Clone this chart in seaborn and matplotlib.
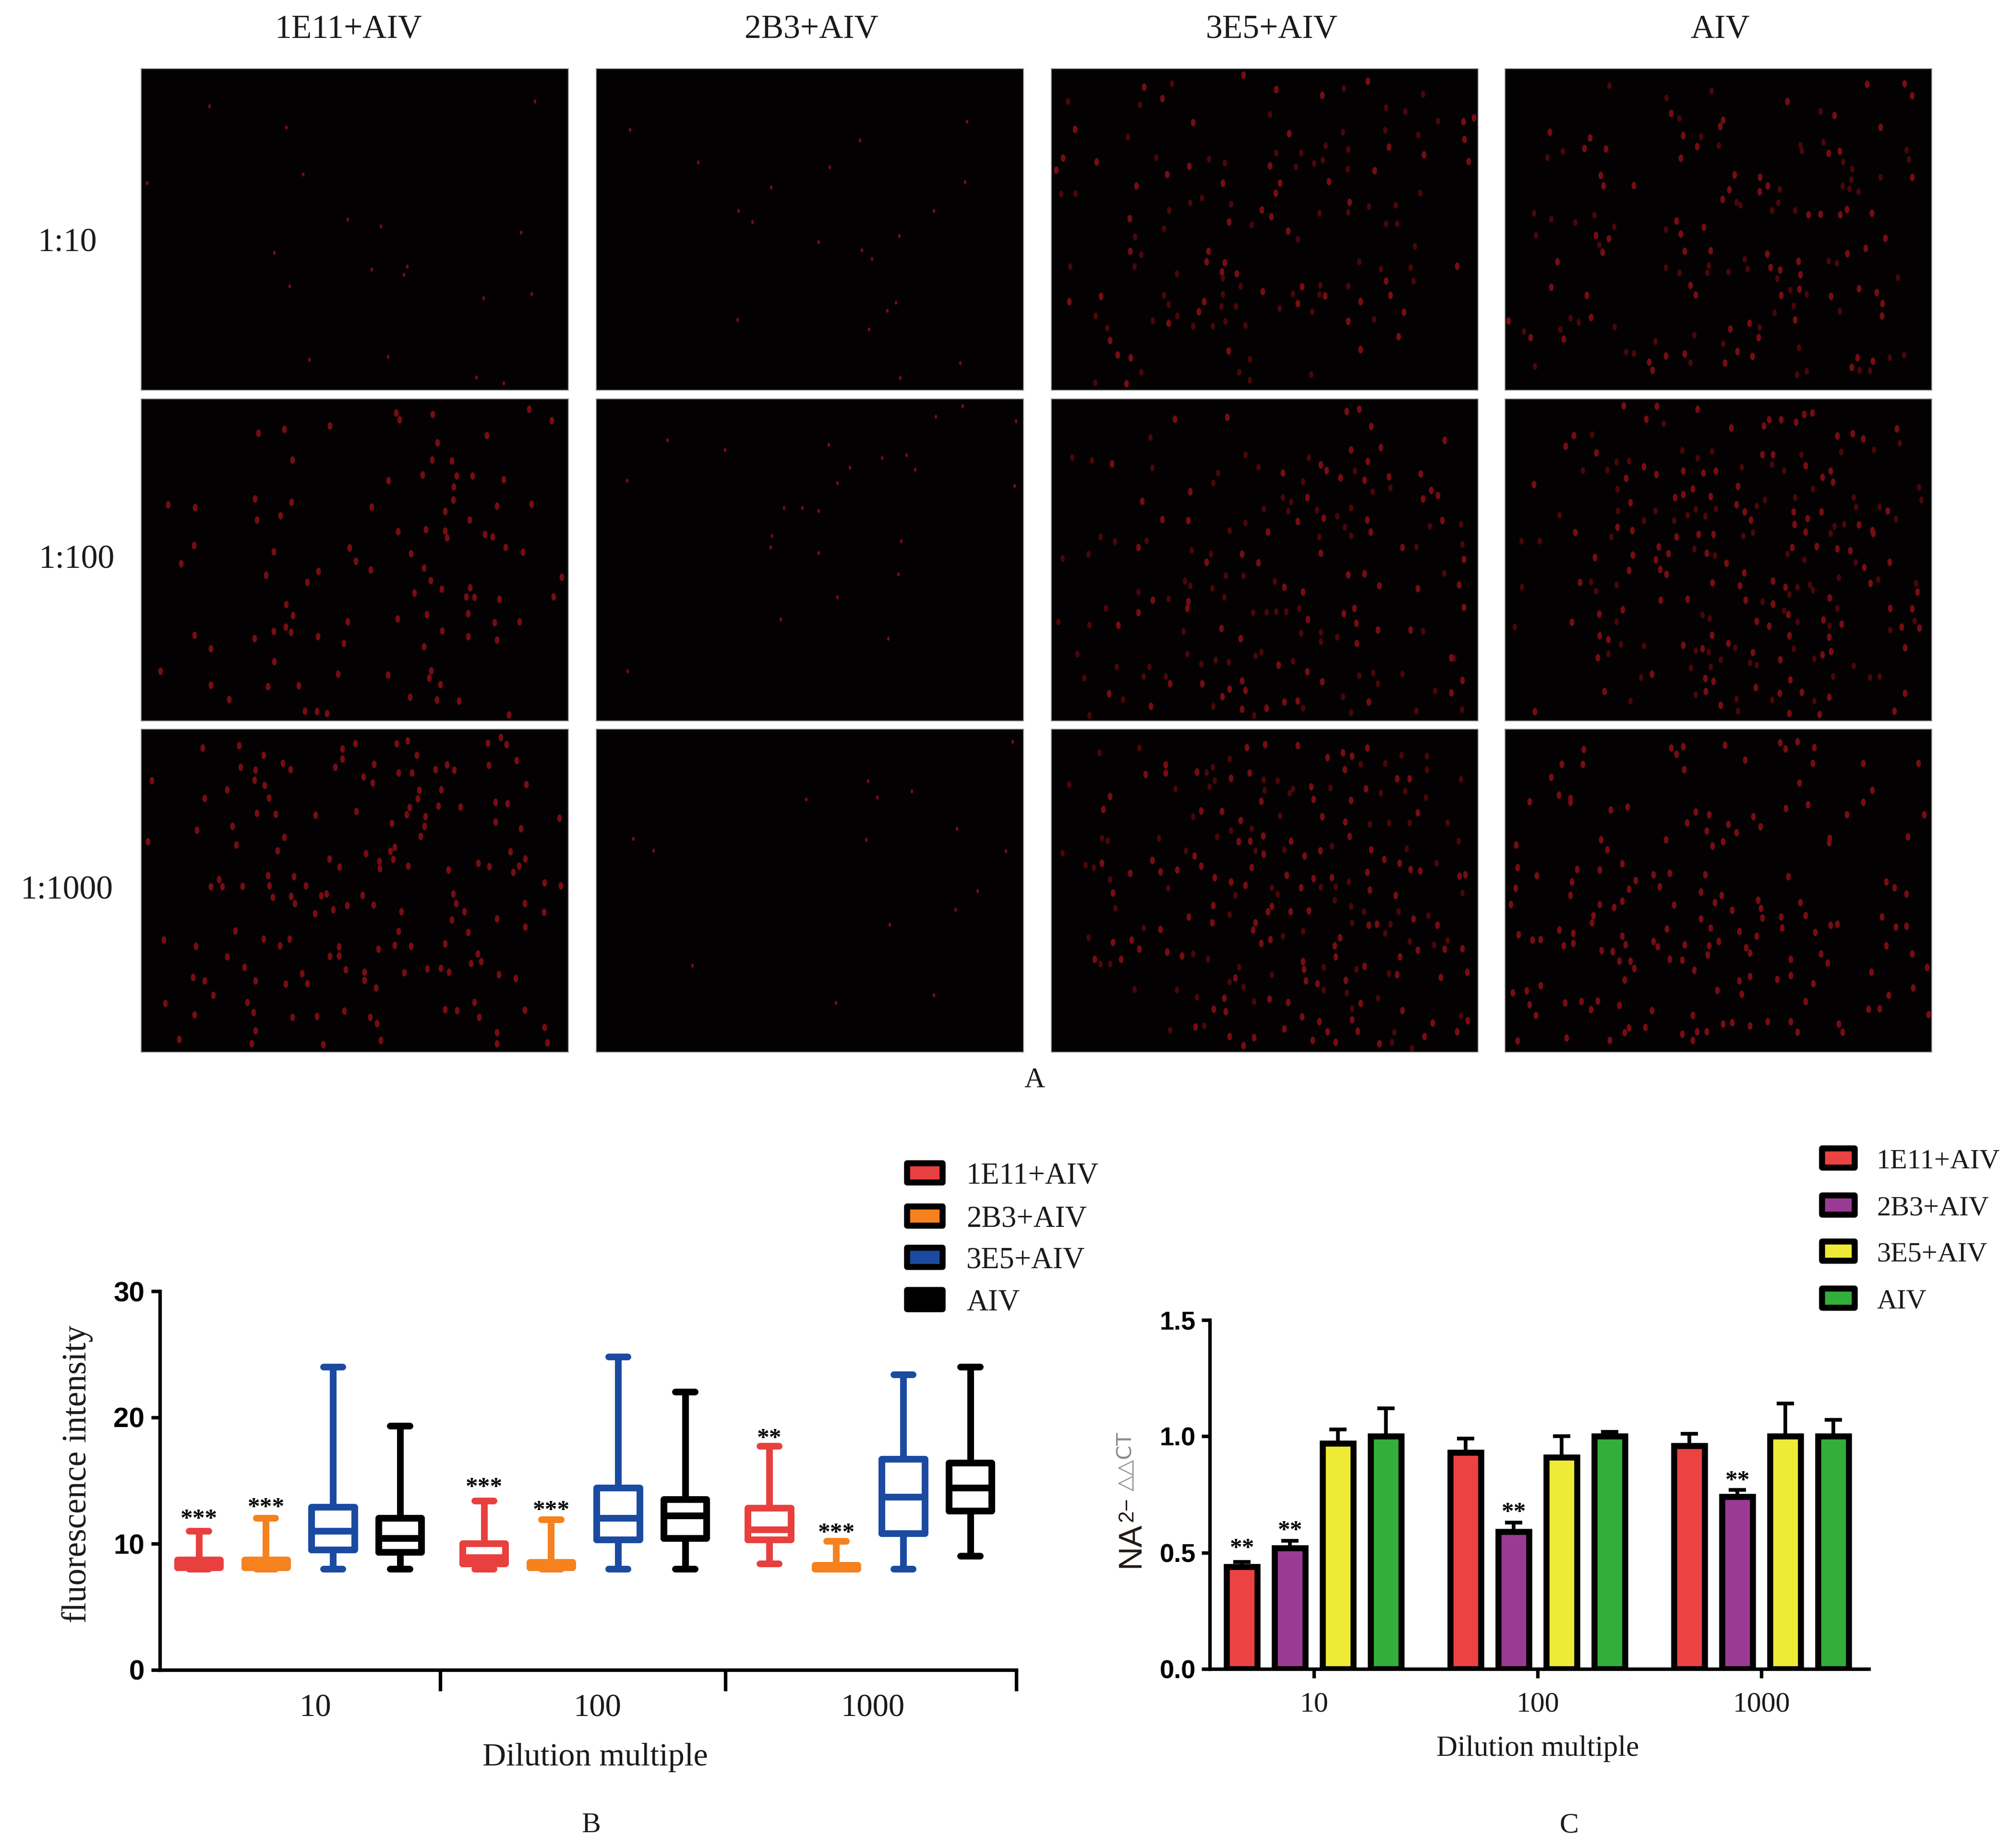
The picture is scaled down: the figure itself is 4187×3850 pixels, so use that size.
import matplotlib
matplotlib.use("Agg")
import matplotlib.pyplot as plt
from matplotlib.markers import MarkerStyle
from matplotlib.patches import Rectangle
from matplotlib.path import Path
from matplotlib.transforms import Affine2D
import pandas as pd
import seaborn as sns

# ---------- panel headings ----------
columns = ["1E11+AIV", "2B3+AIV", "3E5+AIV", "AIV"]
rows = ["1:10", "1:100", "1:1000"]

# ---------- panel B: min, Q1, median, Q3, max per dilution ----------
dilutions = ["10", "100", "1000"]
box_1E11 = [[8.0, 8.1, 8.3, 8.7, 11.0], [8.0, 8.4, 8.9, 10.0, 13.4], [8.4, 10.3, 11.1, 12.8, 17.7]]
box_2B3 = [[8.0, 8.1, 8.3, 8.7, 12.0], [8.0, 8.1, 8.2, 8.5, 11.9], [8.0, 8.0, 8.1, 8.3, 10.2]]
box_3E5 = [[8.0, 9.5, 11.0, 12.9, 24.0], [8.0, 10.3, 12.0, 14.4, 24.8], [8.0, 10.8, 13.7, 16.7, 23.4]]
box_AIV = [[8.0, 9.3, 10.4, 12.0, 19.3], [8.0, 10.4, 12.2, 13.5, 22.0], [9.0, 12.6, 14.4, 16.4, 24.0]]
box_colors = ["#E8403F", "#F5821F", "#1B4BA0", "#000000"]
# significance marks: (group, dilution, label, height)
box_marks = [(0, 0, "***", 11.9), (1, 0, "***", 12.8), (0, 1, "***", 14.4),
             (1, 1, "***", 12.6), (0, 2, "**", 18.3), (1, 2, "***", 10.8)]

# ---------- panel C: bar height and top of error bar per dilution ----------
bar_1E11 = [0.44, 0.93, 0.96]
bar_2B3 = [0.52, 0.59, 0.74]
bar_3E5 = [0.97, 0.91, 1.00]
bar_AIV = [1.00, 1.00, 1.00]
top_1E11 = [0.46, 0.99, 1.01]
top_2B3 = [0.55, 0.63, 0.77]
top_3E5 = [1.03, 1.00, 1.14]
top_AIV = [1.12, 1.02, 1.07]
bar_colors = ["#EA4341", "#9A3B93", "#EFEA36", "#33AE3A"]
bar_marks = [(0, 0, 0.516), (1, 0, 0.593), (1, 1, 0.671), (1, 2, 0.807)]

# ---------- micrograph spots (panel units 0-1568) ----------
s_1E11_10 = [(251,183),(1445,160),(594,515),(757,734),(880,767),(1393,798),(976,964),(964,1003),(545,1061),(616,1419),(905,1404),(1230,1504),(1331,1534),(1432,1098),(1257,1118),(532,285),(22,557),(845,979),(488,897)]
s_2B3_10 = [(123,297),(373,457),(857,479),(642,579),(521,692),(573,747),(1111,815),(975,885),(1012,926),(1099,1140),(1067,1180),(1000,1271),(518,1225),(1336,1434),(1116,1508),(1353,553),(1239,692),(1360,258),(968,349),(815,844)]
s_3E5_10 = [(995,128),(1163,62),(87,295),(873,316),(1240,382),(1368,420),(1532,452),(1187,497),(507,476),(803,472),(18,494),(42,435),(165,455),(425,516),(840,558),(1020,550),(824,606),(629,556),(312,570),(1096,650),(288,730),(652,746),(773,688),(808,720),(870,790),(576,890),(289,890),(570,940),(636,945),(626,990),(680,1000),(921,1062),(776,1085),(1005,1108),(905,1145),(182,1110),(65,1135),(560,1135),(541,1185),(430,1240),(1490,962),(1245,1105),(1135,1135),(1295,1187),(1090,1232),(1275,1305),(215,1325),(243,1395),(291,1410),(275,1535),(650,1375),(1135,1370),(1230,1035),(705,30),(825,100),(408,145),(341,88),(520,262),(1517,343),(1513,258),(1553,238)]
d_3E5_10 = [(60,160),(325,175),(280,332),(1225,300),(1070,310),(1300,208),(1365,125),(1230,190),(802,222),(443,72),(1075,95),(1420,255),(1347,322),(1007,375),(1090,392),(826,410),(917,410),(996,445),(965,462),(897,478),(1088,490),(385,432),(578,440),(636,458),(35,610),(88,608),(510,653),(552,630),(660,660),(432,690),(412,780),(307,818),(330,905),(305,965),(68,965),(460,1000),(630,1020),(695,1060),(988,1055),(985,1100),(888,1098),(630,1100),(412,1105),(430,1150),(625,1158),(678,1158),(838,1168),(958,1185),(462,1205),(162,1205),(373,1228),(520,1255),(592,1255),(638,1230),(712,1252),(1185,1222),(205,1263),(728,1415),(330,1480),(690,1480),(728,1520),(955,1490),(160,1530),(1355,605),(1265,665),(1165,672),(1090,700),(1230,755),(1270,755),(985,705),(735,760),(905,830),(1130,940),(1210,975),(1320,968),(1335,865),(1330,1035),(1090,1060)]
s_AIV_10 = [(843,517),(937,530),(935,600),(965,572),(824,590),(799,637),(1158,710),(1231,712),(1348,705),(1255,685),(1115,712),(630,742),(730,773),(646,805),(660,890),(755,888),(963,903),(1078,938),(1010,980),(975,968),(1085,1005),(700,1103),(680,1055),(1082,1075),(1015,1105),(1300,1072),(1365,1090),(1198,1110),(1387,1145),(1385,1205),(1065,1225),(897,1240),(828,1268),(932,1310),(808,1435),(853,1378),(908,1402),(660,1390),(590,1400),(530,1430),(541,1470),(1273,1455),(1295,1410),(1351,1425),(215,1318),(93,1310),(193,940),(358,895),(333,813),(381,828),(351,520),(362,570),(472,568),(370,390),(291,388),(164,308),(313,337),(610,218),(655,325),(645,435),(705,380),(790,280),(800,250),(1037,160),(1330,75),(1495,132),(1468,72),(1210,228),(1380,285),(1230,402),(1188,412),(1496,530),(1397,827),(1325,875),(1258,900),(12,1228),(170,1065),(300,1105),(316,1212)]
d_AIV_10 = [(382,82),(593,142),(758,108),(1158,208),(212,403),(155,432),(640,240),(720,330),(785,375),(1085,372),(1090,400),(1170,358),(1475,395),(1483,443),(1241,455),(1275,490),(1272,540),(1240,572),(1265,585),(1298,598),(1380,530),(1009,587),(1003,652),(981,690),(850,650),(865,665),(1065,690),(170,733),(105,705),(328,713),(257,750),(112,813),(345,860),(400,770),(590,785),(880,930),(890,975),(748,960),(742,995),(640,995),(590,968),(820,990),(1000,1022),(1188,937),(1218,947),(1442,1018),(1107,1100),(1047,1078),(1060,1155),(990,1188),(1230,1182),(935,1262),(695,1300),(800,1342),(552,1330),(445,1380),(473,1388),(270,1235),(240,1215),(203,1270),(68,1280),(402,1258),(1080,1360),(1072,1490),(1107,1475),(1340,1473),(1302,1470),(1413,1410),(1465,1395),(680,1432),(110,1450)]
s_1E11_100 = [(430,165),(525,148),(692,130),(1069,75),(948,100),(935,68),(1268,178),(1423,50),(1507,105),(1140,302),(1068,297),(1087,213),(555,297),(907,397),(1032,370),(1330,392),(1158,375),(1215,375),(1147,427),(1145,490),(198,527),(99,513),(418,485),(552,503),(845,525),(1115,547),(1305,522),(1432,512),(511,567),(424,590),(1205,590),(193,713),(487,744),(146,802),(1290,670),(1262,658),(1122,675),(1115,642),(1045,635),(943,645),(765,724),(990,752),(1338,723),(1401,745),(458,857),(842,832),(788,790),(1038,822),(1062,883),(1543,866),(610,893),(650,840),(1002,943),(1103,925),(1207,918),(1192,963),(1222,965),(1315,975),(1514,962),(532,1000),(556,1055),(1048,1050),(1199,1045),(1297,1088),(1388,1085),(1105,1128),(940,1070),(758,1085),(530,1110),(550,1135),(1200,1157),(1305,1173),(648,1157),(416,1165),(743,1190),(1038,1205),(256,1215),(488,1278),(723,1338),(1065,1322),(905,1343),(1057,1358),(1097,1390),(256,1393),(465,1400),(578,1396),(322,1462),(987,1452),(1085,1465),(1167,1470),(645,1522),(682,1530),(600,1518),(70,1325),(1350,1538),(195,1150),(486,1130)]
s_2B3_100 = [(113,398),(261,202),(472,248),(852,222),(930,333),(884,408),(1048,287),(1139,273),(1170,343),(1540,107),(1535,424),(688,531),(755,531),(816,545),(644,667),(639,723),(816,751),(1109,852),(884,966),(676,1073),(1072,1166),(115,1325),(1245,87),(1345,34),(1118,691)]
s_3E5_100 = [(453,98),(645,88),(1175,133),(222,315),(990,320),(1010,348),(850,360),(1162,303),(1365,486),(510,450),(333,498),(408,587),(503,592),(795,648),(570,795),(700,755),(760,797),(695,1165),(990,750),(1173,648),(1090,855),(1150,850),(855,915),(1345,922),(925,940),(1075,1045),(1113,1020),(942,1072),(1120,1092),(1320,1125),(1200,1125),(625,1118),(245,1100),(320,1040),(372,978),(502,985),(500,1018),(1122,1190),(995,1376),(940,1328),(835,1295),(700,1372),(655,1412),(712,1418),(628,1448),(435,1385),(553,1385),(212,1435),(365,1495),(1165,1475),(1515,780),(1515,1015),(1510,1370),(1470,1430),(1470,1260),(1290,722),(1435,592),(1062,383),(1240,378),(1420,470),(1395,445),(905,595),(1000,580),(1160,590),(940,480),(320,722),(1445,200),(1100,247),(1210,235),(1130,48),(1085,60),(1357,365),(1150,395),(1498,905),(1205,910),(790,1505),(905,1470),(855,1475),(700,1510)]
d_3E5_100 = [(363,188),(148,298),(75,285),(370,335),(612,360),(595,410),(760,332),(712,270),(945,285),(925,402),(1115,350),(1180,450),(1245,432),(850,480),(880,500),(870,545),(975,540),(1050,570),(1100,530),(1078,625),(985,670),(1100,665),(655,640),(712,602),(780,535),(180,670),(233,695),(350,690),(585,755),(515,735),(135,755),(40,775),(640,860),(705,860),(820,888),(590,920),(490,885),(510,910),(320,940),(430,972),(635,965),(200,1018),(740,1040),(790,1038),(825,1035),(862,1035),(910,1020),(485,1130),(140,1100),(25,1085),(95,1240),(500,1240),(360,1303),(240,1305),(550,1290),(650,1280),(750,1250),(770,1232),(603,1272),(888,1275),(1050,1160),(990,1135),(918,1140),(990,1180),(1130,1345),(1182,1335),(1200,1385),(1290,1340),(1410,1420),(1480,1262),(1443,848),(1365,1130),(1340,720),(1510,707),(1505,610),(1390,620),(120,1358),(338,1350),(420,1350),(262,1463),(1070,1448),(595,1495),(1100,1525),(1340,1520),(1508,1512),(925,1505),(745,1540),(140,1540)]
s_AIV_100 = [(708,48),(830,140),(950,130),(970,100),(1015,100),(1277,168),(1220,180),(1315,195),(1440,145),(985,272),(945,270),(335,262),(510,330),(555,367),(728,360),(775,350),(655,350),(445,385),(460,505),(625,480),(690,438),(655,465),(755,475),(855,425),(850,515),(880,550),(903,590),(1060,550),(1112,582),(1162,550),(1205,405),(1105,325),(1165,380),(1195,350),(1063,610),(1105,648),(1300,612),(1350,640),(1405,545),(710,658),(765,660),(630,670),(412,625),(468,640),(565,720),(600,752),(553,782),(570,830),(592,852),(470,760),(330,770),(455,835),(740,750),(1145,717),(1055,722),(1220,730),(1268,738),(813,800),(878,845),(985,885),(762,895),(862,910),(1030,915),(1343,898),(1515,940),(1193,968),(985,998),(883,978),(670,975),(572,978),(432,1025),(345,1048),(245,1087),(1415,1020),(1495,1022),(1170,1075),(1040,1050),(925,1082),(970,1105),(1237,1095),(1522,1115),(1457,1110),(760,1150),(820,1190),(655,1198),(348,1152),(380,1170),(1045,1152),(1190,1160),(1470,1210),(1198,1228),(1165,1245),(1010,1268),(910,1235),(725,1215),(340,1260),(540,1338),(735,1360),(765,1375),(738,1423),(1048,1368),(920,1405),(1008,1432),(1090,1428),(1190,1452),(1155,1535),(792,1492),(365,1422),(110,1522),(1045,1530),(1430,1520),(1470,1432),(1352,655),(1412,795),(1320,820),(275,893),(105,415),(252,178),(222,228),(258,650),(436,32),(558,35),(518,98),(1128,68),(1098,75),(1068,113)]
d_AIV_100 = [(582,120),(320,173),(285,348),(375,347),(410,307),(455,302),(650,250),(760,255),(708,287),(1088,270),(1025,348),(870,332),(1235,258),(980,318),(1355,248),(1450,215),(412,440),(415,545),(552,545),(700,538),(735,570),(775,535),(670,565),(620,592),(510,592),(390,670),(200,565),(127,692),(60,692),(1280,480),(1065,480),(1130,437),(955,490),(925,520),(1290,525),(1375,525),(1520,430),(1530,490),(1435,585),(1245,610),(1210,620),(1195,655),(875,665),(910,650),(695,730),(770,762),(1037,755),(1098,782),(1287,795),(1225,870),(1370,878),(1510,898),(1045,950),(1130,930),(1120,905),(1075,915),(315,890),(410,905),(333,935),(62,915),(36,1110),(410,1085),(725,1052),(752,1068),(1075,1085),(1192,1105),(1415,1125),(1505,1080),(1025,1030),(945,985),(1220,1020),(380,1240),(510,1200),(425,1195),(700,1225),(748,1232),(845,1210),(900,1282),(925,1295),(792,1268),(755,1305),(682,1308),(1060,1215),(1135,1265),(1280,1300),(1340,1355),(1375,1350),(1205,1350),(500,1355),(700,1440),(460,1470),(850,1460),(980,1465),(1135,1470),(855,1520)]
s_1E11_1000 = [(225,92),(360,80),(450,125),(520,165),(548,195),(420,198),(365,185),(38,250),(415,248),(452,272),(315,293),(232,335),(468,333),(425,408),(493,413),(640,418),(790,398),(712,183),(785,70),(738,95),(738,145),(855,170),(937,70),(978,55),(1012,125),(945,213),(993,213),(850,262),(815,230),(1080,195),(1148,198),(1122,172),(1272,68),(1340,75),(1320,40),(1378,152),(1275,175),(1102,293),(1020,295),(1015,338),(985,380),(975,415),(1172,378),(1345,360),(1300,355),(1090,372),(1043,423),(1300,450),(1393,483),(1413,268),(1535,430),(920,457),(1040,470),(1025,520),(335,470),(205,490),(25,545),(348,562),(525,525),(500,590),(930,572),(915,592),(825,603),(925,632),(873,640),(690,630),(728,668),(980,665),(875,675),(1128,682),(1237,650),(1277,667),(1355,595),(1387,665),(1365,695),(1410,628),(605,760),(560,715),(465,710),(470,760),(482,815),(297,765),(285,730),(255,765),(372,762),(550,810),(563,845),(680,798),(660,808),(812,805),(755,855),(705,875),(852,852),(1145,798),(1155,845),(1185,885),(1408,845),(1478,887),(1480,745),(1540,760),(955,885),(637,895),(1140,925),(1410,960),(1200,985),(1305,920),(945,980),(345,978),(450,1018),(83,1022),(200,1052),(510,1050),(545,1018),(725,1055),(725,1100),(692,1102),(870,1068),(930,1048),(990,1052),(1235,1090),(1248,1128),(1210,1138),(1115,1042),(315,1105),(378,1155),(750,1168),(590,1185),(820,1218),(820,1180),(965,1182),(1050,1162),(1100,1160),(1130,1180),(1313,1190),(1375,1210),(420,1222),(232,1222),(190,1205),(265,1290),(88,1330),(390,1325),(412,1375),(645,1393),(745,1368),(840,1397),(865,1428),(862,1255),(1115,1360),(1160,1365),(1222,1325),(1240,1397),(1408,1362),(1480,1447),(1305,1472),(1490,1522),(1305,1525),(140,1505),(420,1462),(405,1525),(668,1530),(880,1510),(555,1398),(530,1238),(610,1235),(195,1387)]
s_2B3_1000 = [(1528,60),(997,252),(1158,301),(770,339),(1030,331),(1323,483),(135,531),(210,590),(990,537),(1398,786),(1318,877),(352,1147),(1503,592),(1077,949),(880,1327),(1238,1291)]
s_3E5_1000 = [(717,88),(785,75),(1070,115),(1105,130),(1160,90),(1015,138),(905,80),(728,213),(660,238),(535,208),(420,212),(420,172),(345,220),(1078,195),(1315,240),(1270,240),(1155,290),(955,280),(215,327),(190,388),(550,395),(627,398),(770,350),(963,340),(695,442),(995,425),(1080,450),(1345,405),(1100,345),(880,542),(730,542),(687,545),(778,518),(1095,520),(1175,585),(1278,650),(1222,632),(780,605),(930,615),(987,590),(185,650),(370,635),(525,615),(400,692),(462,682),(290,698),(550,665),(735,672),(600,720),(660,742),(712,758),(865,708),(963,725),(918,768),(1030,720),(1160,695),(1355,688),(1320,680),(1500,712),(1520,705),(225,795),(595,855),(505,910),(810,860),(795,885),(878,885),(945,880),(750,940),(740,975),(1265,805),(1170,780),(1330,920),(1418,950),(1165,950),(1195,945),(590,938),(400,972),(1060,1010),(1040,1050),(770,1040),(805,1020),(225,1035),(295,1022),(323,1068),(425,1082),(480,1100),(158,1115),(255,1115),(1045,1105),(1280,1105),(1345,1072),(1445,1067),(1510,1065),(925,1128),(928,1165),(1150,1150),(1270,1190),(935,1222),(978,1235),(1082,1218),(1527,1178),(1430,1205),(675,1208),(635,1305),(800,1310),(870,1325),(640,1370),(597,1358),(1290,1365),(1135,1330),(920,1395),(1400,1425),(985,1420),(1105,1410),(855,1455),(1125,1465),(960,1510),(1045,1520),(1015,1468),(1205,1525),(705,1535),(655,1490),(745,1495),(530,1445),(1490,1467),(1370,1490),(1530,1415)]
d_3E5_1000 = [(322,92),(177,115),(65,268),(455,290),(592,185),(570,210),(600,250),(580,280),(655,145),(783,295),(830,250),(780,245),(875,310),(888,290),(1025,285),(1225,165),(1135,170),(1285,125),(1380,130),(1505,242),(1380,195),(1210,310),(1300,300),(1375,330),(520,425),(840,420),(735,482),(660,492),(608,522),(1170,462),(1240,455),(1315,455),(1455,455),(1495,542),(185,530),(207,540),(395,530),(40,600),(125,660),(155,670),(493,590),(750,590),(855,585),(1030,565),(1305,580),(1415,650),(215,730),(428,772),(810,770),(990,767),(1092,742),(1045,765),(1510,795),(675,805),(830,800),(1040,830),(1100,860),(1148,885),(1275,885),(235,870),(1385,905),(655,900),(338,965),(135,1012),(1105,940),(1245,945),(1225,990),(850,1005),(925,980),(1455,1025),(1405,1045),(1315,1030),(520,1090),(575,1115),(690,1155),(180,1140),(215,1140),(1000,1155),(1120,1165),(1240,1185),(810,1190),(655,1225),(705,1250),(305,1262),(460,1265),(535,1300),(745,1322),(1000,1265),(1085,1280),(1200,1305),(1105,1355),(1505,1390),(560,1440),(435,1460),(1260,1470),(1250,1520),(1325,1550)]
s_AIV_1000 = [(290,98),(610,90),(655,85),(630,120),(1010,65),(1030,95),(1135,88),(1075,60),(1315,165),(1130,165),(882,150),(658,195),(808,78),(1082,260),(1518,165),(208,170),(285,170),(170,232),(197,320),(240,335),(240,355),(90,352),(450,378),(388,392),(1032,385),(1113,365),(1350,295),(1315,355),(1255,415),(700,400),(750,415),(668,455),(820,462),(850,500),(938,472),(740,495),(912,425),(1192,530),(1190,550),(353,535),(590,537),(762,565),(800,545),(1480,522),(40,562),(375,585),(430,652),(45,672),(117,710),(348,682),(545,705),(265,680),(245,740),(38,772),(480,735),(455,775),(568,765),(605,700),(735,705),(720,790),(770,840),(795,805),(620,852),(400,865),(430,835),(240,805),(348,850),(22,850),(1085,840),(930,830),(940,870),(945,915),(835,878),(1040,715),(1105,905),(1015,910),(1017,965),(595,970),(720,920),(1195,950),(1220,945),(1435,960),(1475,955),(1430,770),(1400,740),(1475,800),(1540,415),(1385,910),(325,905),(320,940),(200,975),(250,990),(130,1020),(100,1022),(50,998),(250,1040),(215,1050),(430,1005),(443,1045),(660,1045),(885,1060),(900,1085),(755,965),(860,980),(925,1005),(785,1030),(750,1050),(745,1095),(560,1055),(545,1030),(395,1078),(355,1075),(420,1125),(460,1125),(475,1160),(605,1115),(650,1120),(695,1170),(1050,1115),(1160,1090),(1185,1135),(1140,985),(1400,1050),(1495,1090),(1550,1155),(1345,1180),(440,1217),(28,1278),(130,1245),(80,1270),(90,1338),(220,1328),(280,1320),(340,1318),(315,1360),(113,1388),(420,1340),(780,1268),(870,1285),(1000,1215),(1050,1195),(1132,1235),(1105,1320),(900,1200),(860,1220),(540,1365),(690,1388),(515,1447),(455,1450),(440,1472),(705,1468),(740,1468),(650,1480),(690,1510),(225,1497),(385,1510),(45,1512),(800,1430),(835,1423),(900,1440),(965,1418),(1050,1420),(1075,1470),(1240,1470),(1225,1430),(1335,1358),(1375,1355),(1500,1255),(1555,1383),(1410,1290)]

panel_strong = [[s_1E11_10, s_2B3_10, s_3E5_10, s_AIV_10],
                [s_1E11_100, s_2B3_100, s_3E5_100, s_AIV_100],
                [s_1E11_1000, s_2B3_1000, s_3E5_1000, s_AIV_1000]]
panel_dim = [[[], [], d_3E5_10, d_AIV_10],
             [[], [], d_3E5_100, d_AIV_100],
             [[], [], d_3E5_1000, []]]

# ---------- figure set-up ----------
W, H = 4187, 3850
sns.set_theme(style="white")
plt.rcParams["font.family"] = ["Liberation Serif", "DejaVu Sans"]
fig = plt.figure(figsize=(W / 100, H / 100), dpi=100, facecolor="white")
cell = MarkerStyle(Path.unit_circle().transformed(Affine2D().scale(0.62, 1.0)))


def axes_px(x0, y0, x1, y1):
    return fig.add_axes([x0 / W, 1 - y1 / H, (x1 - x0) / W, (y1 - y0) / H])


def label(x, y, s, size, **kw):
    kw.setdefault("ha", "center")
    kw.setdefault("va", "center")
    return fig.text(x / W, 1 - y / H, s, fontsize=size, color=kw.pop("color", "#1a1a1a"), **kw)


# ---------- panel A ----------
col_x = [(294, 1184), (1242, 2132), (2190, 3079), (3135, 4024)]
row_y = [(143, 813), (831, 1502), (1519, 2192)]
for r, (y0, y1) in enumerate(row_y):
    for c, (x0, x1) in enumerate(col_x):
        ax = axes_px(x0, y0, x1, y1)
        ax.set_facecolor("#040102")
        dim = panel_dim[r][c]
        strong = panel_strong[r][c]
        sparse = not dim and len(strong) < 60
        if dim:
            sns.scatterplot(x=[p[0] for p in dim], y=[p[1] for p in dim], ax=ax,
                            color="#4a0609", marker=cell, s=110, linewidth=0, legend=False)
        sns.scatterplot(x=[p[0] for p in strong], y=[p[1] for p in strong], ax=ax,
                        color="#780c13", marker=cell, s=40 if sparse else 130, linewidth=0, legend=False)
        ax.set(xlim=(0, 1568), ylim=(1568, 0), xticks=[], yticks=[], xlabel="", ylabel="")
        for sp in ax.spines.values():
            sp.set_color("#9a9a9a")
            sp.set_linewidth(1.2)

for x, s in zip([726, 1690, 2649, 3583], columns):
    label(x, 62, s, 50)
for x, y, s in zip([141, 160, 139], [507, 1167, 1856], rows):
    label(x, y, s, 50)
label(2155, 2251, "A", 43)

# ---------- panel B ----------
rec = []
for name, table in zip(columns, [box_1E11, box_2B3, box_3E5, box_AIV]):
    for dil, five in zip(dilutions, table):
        rec += [{"dilution": dil, "group": name, "value": v} for v in five]
box_df = pd.DataFrame(rec)

axb = axes_px(333, 2690, 2117, 3479)
sns.boxplot(data=box_df, x="dilution", y="value", hue="group", order=dilutions, hue_order=columns,
            palette=box_colors, fill=False, whis=(0, 100), width=0.94, gap=0.36, linewidth=10,
            capwidths=0.068, legend=False, ax=axb)
axb.set(xlim=(-0.49, 2.513), ylim=(0, 30), xlabel="", ylabel="")
axb.set_yticks([0, 10, 20, 30])
axb.set_yticklabels(["0", "10", "20", "30"], fontfamily="Liberation Sans", fontweight="bold", fontsize=42)
axb.set_xticks([0.493, 1.493, 2.513])
axb.set_xticklabels(["", "", ""])
axb.set_xticks([0.054, 1.044, 2.01], minor=True)
axb.set_xticklabels(dilutions, minor=True, fontsize=48)
axb.tick_params(axis="x", which="major", length=32, width=5.3, color="black", bottom=True)
axb.tick_params(axis="x", which="minor", length=0, pad=36, bottom=True, labelcolor="#1a1a1a")
axb.tick_params(axis="y", length=13, width=5.3, color="black", left=True, pad=10, labelcolor="black")
sns.despine(ax=axb)
for side in ("left", "bottom"):
    axb.spines[side].set_linewidth(5.3)
    axb.spines[side].set_color("black")
for g, d, s, h in box_marks:
    axb.text(d + (g - 1.5) * 0.235, h, s, ha="center", va="center", fontsize=37, fontweight="bold", color="black")
label(161, 3071, "fluorescence intensity", 51, rotation=90)
label(1240, 3662, "Dilution multiple", 49)
label(1231, 3803, "B", 43)

# ---------- panel C ----------
rec = []
for name, vals in zip(columns, [bar_1E11, bar_2B3, bar_3E5, bar_AIV]):
    rec += [{"dilution": d, "group": name, "value": v} for d, v in zip(dilutions, vals)]
bar_df = pd.DataFrame(rec)

axc = axes_px(2520, 2750, 3893, 3477)
sns.barplot(data=bar_df, x="dilution", y="value", hue="group", order=dilutions, hue_order=columns,
            palette=bar_colors, saturation=1, width=0.858, gap=0.36, errorbar=None,
            edgecolor="black", linewidth=9, legend=False, ax=axc)
tops = [top_1E11, top_2B3, top_3E5, top_AIV]
for cont, ts in zip(axc.containers, tops):
    for rect, t in zip(cont, ts):
        axc.errorbar(rect.get_x() + rect.get_width() / 2, rect.get_height(),
                     yerr=[[0], [t - rect.get_height()]], ecolor="black", elinewidth=5.5,
                     capsize=13, capthick=5.5, zorder=1)
for g, d, h in bar_marks:
    axc.text(d + (g - 1.5) * 0.2145, h, "**", ha="center", va="center", fontsize=37, fontweight="bold", color="black")
axc.set(xlim=(-0.466, 2.48), ylim=(0, 1.5), xlabel="", ylabel="")
axc.set_yticks([0, 0.5, 1.0, 1.5])
axc.set_yticklabels(["0.0", "0.5", "1.0", "1.5"], fontfamily="Liberation Sans", fontweight="bold", fontsize=39)
axc.set_xticks([0, 1, 2])
axc.set_xticklabels(dilutions, fontsize=43)
axc.tick_params(axis="x", length=14, width=5.3, color="black", bottom=True, pad=20, labelcolor="#1a1a1a")
axc.tick_params(axis="y", length=12, width=5.3, color="black", left=True, pad=9, labelcolor="black")
sns.despine(ax=axc)
for side in ("left", "bottom"):
    axc.spines[side].set_linewidth(5.3)
    axc.spines[side].set_color("black")
label(2355, 3219, "NA", 49, rotation=90, fontfamily="Liberation Sans", color="#231815")
label(2348, 3145, "2−", 32, rotation=90, fontfamily="Liberation Sans", color="#231815")
label(2345, 3045, "△△CT", 31, rotation=90, fontfamily=["DejaVu Sans"], color="#8a8a8a")
label(3203, 3643, "Dilution multiple", 44)
label(3268, 3803, "C", 43)


# ---------- hand-placed legends ----------
def legend(colors, ys, x0, x1, h, tx, size):
    for color, y, name in zip(colors, ys, columns):
        fig.add_artist(Rectangle((x0 / W, 1 - (y + h / 2) / H), (x1 - x0) / W, h / H,
                                 transform=fig.transFigure, facecolor=color, edgecolor="black",
                                 linewidth=9, joinstyle="round"))
        label(tx, y + 7, name, size, ha="left")


legend(box_colors, [2443, 2533, 2619, 2707], 1889, 1963, 40, 2013, 45)
legend(bar_colors, [2412, 2510, 2606, 2704], 3795, 3863, 40, 3909, 42)

fig.savefig("out.png", dpi=100)
